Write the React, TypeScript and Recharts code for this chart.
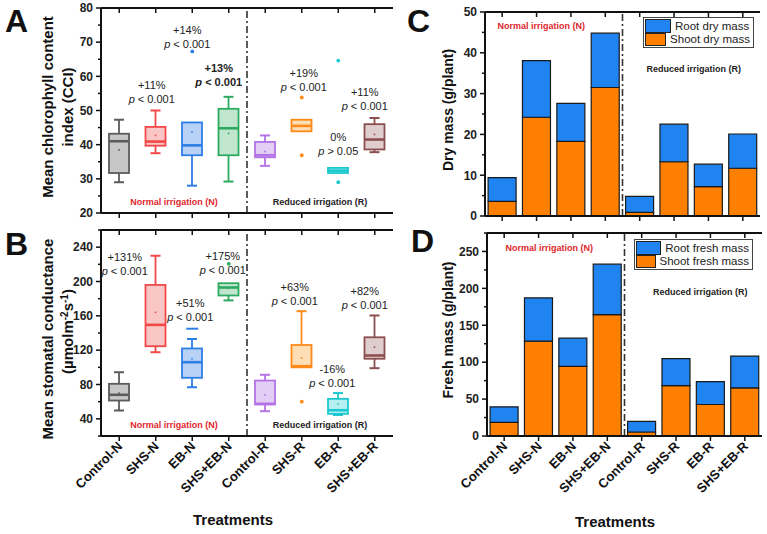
import React from "react";
import {
  ComposedChart,
  Bar,
  Scatter,
  XAxis,
  YAxis,
  ReferenceLine,
  ReferenceArea,
  Legend,
  Label,
} from "recharts";

const treatments = ["Control-N", "SHS-N", "EB-N", "SHS+EB-N", "Control-R", "SHS-R", "EB-R", "SHS+EB-R"];

// A: chlorophyll content index (CCI), box statistics
const cciMin = [29, 37.5, 28, 29.2, 33.8, 43.9, 31.7, 37.8];
const cciQ1 = [31.7, 39.7, 36.9, 36.9, 36.3, 43.9, 31.7, 38.6];
const cciMedian = [41, 40.9, 39.8, 44.8, 36.9, 45.5, 32.4, 41.5];
const cciQ3 = [43.2, 45.2, 46.5, 50.5, 40.8, 47.3, 33.2, 46];
const cciMax = [47.3, 50, 46.5, 54, 42.7, 47.3, 33.2, 47.8];
const cciMean = [38.5, 42.7, 43.7, 43.3, 38, 45.6, 32.5, 43];
const cciOutCat = ["EB-N", "SHS-R", "SHS-R", "EB-R", "EB-R"];
const cciOutVal = [67.3, 53.8, 36.9, 64.6, 29];
const cciNoteCat = ["SHS-N", "EB-N", "SHS+EB-N", "SHS-R", "EB-R", "SHS+EB-R"];
const cciNotePct = ["+11%", "+14%", "+13%", "+19%", "0%", "+11%"];
const cciNoteP = ["< 0.001", "< 0.001", "< 0.001", "< 0.001", "> 0.05", "< 0.001"];

// B: stomatal conductance, box statistics
const gsMin = [49.7, 117.6, 76.8, 178, 48.9, 100, 44.5, 99];
const gsQ1 = [61.3, 124.6, 87.8, 183.7, 56.7, 100, 45.8, 110];
const gsMedian = [68, 149.5, 106, 193, 57.5, 101.3, 50, 113.8];
const gsQ3 = [80.8, 196, 122, 198, 84.6, 126, 63.3, 135];
const gsMax = [94.3, 230, 133, 198, 91.3, 165.4, 70, 160.4];
const gsMean = [70, 164, 110, 192, 68, 111, 57.5, 123.5];
const gsOutCat = ["SHS+EB-N", "SHS-R"];
const gsOutVal = [220.6, 60];
const gsDashCat = ["EB-N"];
const gsDashVal = [145];
const gsNoteCat = ["SHS-N", "EB-N", "SHS+EB-N", "SHS-R", "EB-R", "SHS+EB-R"];
const gsNotePct = ["+131%", "+51%", "+175%", "+63%", "-16%", "+82%"];
const gsNoteP = ["< 0.001", "< 0.001", "< 0.001", "< 0.001", "< 0.001", "< 0.001"];

// C: dry mass (g/plant)
const dryShoot = [3.6, 24.2, 18.3, 31.5, 0.9, 13.3, 7.2, 11.7];
const dryRoot = [5.8, 13.9, 9.3, 13.3, 3.9, 9.2, 5.5, 8.4];

// D: fresh mass (g/plant)
const freshShoot = [18.5, 128.5, 94.4, 164.5, 5.4, 68.3, 42.7, 65.2];
const freshRoot = [21, 58.5, 38.1, 68.3, 14.4, 36.5, 31, 43.1];

// where the % / p-value notes sit (y in axis units, x nudge in px)
const cciNoteY = [57.5, 73.6, 62.5, 61.1, 42.3, 55.5];
const cciNoteDx = [-4, -5, -10, 2, 0, -10];
const cciNoteBold = [false, false, true, false, false, false];
const gsNoteY = [228.3, 174.7, 229.2, 193.4, 97.5, 189.5];
const gsNoteDx = [-31, -2, -6, -7, -6, -10];

const boxStroke = ["#5b5b5b", "#f24848", "#2d7fe6", "#2daa5f", "#b473e6", "#ff8a1a", "#1cc8cf", "#8c4f4f"];
const boxFill = ["#bdbdbd", "#f8bcbc", "#aacaf2", "#b6e2c6", "#dec6f3", "#ffd8a8", "#a8ecef", "#dac6c6"];

const BLUE = "#1f83f0";
const ORANGE = "#ff8000";
const INK = "#111";
const FONT = '"Liberation Sans", Arial, Helvetica, sans-serif';

const boxRows = (mn: number[], q1: number[], md: number[], q3: number[], mx: number[], mean: number[]) =>
  treatments.map((name, idx) => ({
    name,
    idx,
    range: [mn[idx], mx[idx]],
    min: mn[idx],
    q1: q1[idx],
    median: md[idx],
    q3: q3[idx],
    max: mx[idx],
    mean: mean[idx],
  }));

const cciRows = boxRows(cciMin, cciQ1, cciMedian, cciQ3, cciMax, cciMean);
const gsRows = boxRows(gsMin, gsQ1, gsMedian, gsQ3, gsMax, gsMean);
const cciOutliers = cciOutCat.map((name, i) => ({ name, value: cciOutVal[i] }));
const gsOutliers = gsOutCat.map((name, i) => ({ name, value: gsOutVal[i] }));
const gsDashes = gsDashCat.map((name, i) => ({ name, value: gsDashVal[i] }));
const cciNotes = cciNoteCat.map((name, i) => ({
  name, y: cciNoteY[i], pct: cciNotePct[i], p: cciNoteP[i], dx: cciNoteDx[i], bold: cciNoteBold[i],
}));
const gsNotes = gsNoteCat.map((name, i) => ({
  name, y: gsNoteY[i], pct: gsNotePct[i], p: gsNoteP[i], dx: gsNoteDx[i], bold: false,
}));
const dryRows = treatments.map((name, i) => ({ name, shoot: dryShoot[i], root: dryRoot[i] }));
const freshRows = treatments.map((name, i) => ({ name, shoot: freshShoot[i], root: freshRoot[i] }));

const steps = (from: number, to: number, step: number) => {
  const out: number[] = [];
  for (let v = from; v <= to + 1e-9; v += step) out.push(v);
  return out;
};

const axisLine = { stroke: INK, strokeWidth: 2 };
const EmptyTick = () => <g />;

// y ticks drawn by hand so minor ticks come out shorter and unlabeled
const yTick = (side: "left" | "right", major: number, fontSize: number) => (props: any) => {
  const { x, y, payload } = props;
  const v = Number(payload.value);
  const isMajor = Math.abs(v / major - Math.round(v / major)) < 1e-6;
  const len = isMajor ? 5 : 3;
  const s = side === "left" ? -1 : 1;
  return (
    <g>
      <line x1={x} x2={x + s * len} y1={y} y2={y} stroke={INK} strokeWidth={1.5} />
      {side === "left" && isMajor && (
        <text x={x - 8} y={y} dy={4.3} textAnchor="end" fontSize={fontSize} fontWeight={700} fill="#222">
          {v}
        </text>
      )}
    </g>
  );
};

const SlantTick = (props: any) => {
  const { x, y, payload } = props;
  const ax = x + 4;
  const ay = y + 4;
  return (
    <text x={ax} y={ay} transform={`rotate(-45 ${ax} ${ay})`} textAnchor="end" fontSize={13} fontWeight={700} fill={INK}>
      {payload.value}
    </text>
  );
};

function BoxShape(props: any) {
  const { x, y, width, height, payload } = props;
  const { min, q1, median, q3, max, mean, idx } = payload;
  const px = (v: number) => y + ((max - v) / (max - min)) * height;
  const cx = x + width / 2;
  const cap = 5;
  const stroke = boxStroke[idx];
  return (
    <g stroke={stroke} strokeWidth={1.8}>
      {max > q3 && <line x1={cx} x2={cx} y1={px(q3)} y2={px(max)} />}
      {max > q3 && <line x1={cx - cap} x2={cx + cap} y1={px(max)} y2={px(max)} strokeWidth={2} />}
      {min < q1 && <line x1={cx} x2={cx} y1={px(q1)} y2={px(min)} />}
      {min < q1 && <line x1={cx - cap} x2={cx + cap} y1={px(min)} y2={px(min)} strokeWidth={2} />}
      <rect x={x} y={px(q3)} width={width} height={Math.max(px(q1) - px(q3), 1)} fill={boxFill[idx]} fillOpacity={0.85} />
      <line x1={x} x2={x + width} y1={px(median)} y2={px(median)} strokeWidth={2.6} />
      <rect x={cx - 0.8} y={px(mean) - 0.8} width={1.6} height={1.6} fill={stroke} strokeWidth={0} />
    </g>
  );
}

const OutlierDot = (props: any) => {
  const { cx, cy, payload } = props;
  return <circle cx={cx} cy={cy} r={1.9} fill={boxStroke[treatments.indexOf(payload.name)]} />;
};

const DashMark = (props: any) => {
  const { cx, cy, payload } = props;
  return <line x1={cx - 6} x2={cx + 6} y1={cy} y2={cy} stroke={boxStroke[treatments.indexOf(payload.name)]} strokeWidth={2} />;
};

const NoteShape = (props: any) => {
  const { cx, cy, payload } = props;
  const tx = cx + payload.dx;
  return (
    <g fontSize={11} fontWeight={payload.bold ? 700 : 400} fill="#222">
      <text x={tx} y={cy + 4} textAnchor="middle">{payload.pct}</text>
      <text x={tx} y={cy + 18} textAnchor="middle">
        <tspan fontStyle="italic">p</tspan>
        {" " + payload.p}
      </text>
    </g>
  );
};

const regionLabel = (text: string, color: string, dx: number, from: "top" | "bottom", off: number) => (p: any) => {
  const vb = p.viewBox;
  const ty = from === "top" ? vb.y + off : vb.y + vb.height - off;
  return (
    <text x={vb.x + vb.width / 2 + dx} y={ty} textAnchor="middle" fontSize={9} fontWeight={700} fill={color}>
      {text}
    </text>
  );
};

const yTitle = (lines: React.ReactNode[], xs: number[], dys: number[], size: number) => (p: any) => {
  const vb = p.viewBox;
  const mid = vb.y + vb.height / 2;
  return (
    <g>
      {lines.map((ln, i) => (
        <text
          key={i}
          x={xs[i]}
          y={mid + dys[i]}
          transform={`rotate(-90 ${xs[i]} ${mid + dys[i]})`}
          textAnchor="middle"
          fontSize={size}
          fontWeight={700}
          fill={INK}
        >
          {ln}
        </text>
      ))}
    </g>
  );
};

const xTitle = (dx: number, base: number) => (p: any) => {
  const vb = p.viewBox;
  return (
    <text x={vb.x + vb.width / 2 + dx} y={vb.y + base} textAnchor="middle" fontSize={15} fontWeight={700} fill={INK}>
      Treatments
    </text>
  );
};

const massLegend = (labels: string[]) => () => (
  <div
    style={{
      border: "1.5px solid #444",
      background: "#fff",
      padding: "1px 3px 1px 1px",
      fontSize: 11.5,
      lineHeight: "12.5px",
      color: "#222",
      fontFamily: FONT,
    }}
  >
    {labels.map((l, i) => (
      <div key={l} style={{ display: "flex", alignItems: "center", whiteSpace: "nowrap" }}>
        <span
          style={{
            display: "inline-block",
            width: 24,
            height: 11.5,
            background: i === 0 ? BLUE : ORANGE,
            border: "1px solid #222",
            marginRight: 4,
          }}
        />
        {l}
      </div>
    ))}
  </div>
);

function BoxPanel(props: {
  rows: any[];
  outliers: any[];
  dashes?: any[];
  notes: any[];
  domain: [number, number];
  minor: number;
  major: number;
  height: number;
  xHeight: number;
  title: React.ReactNode[];
  titleDy: number[];
  showTicks: boolean;
}) {
  const { rows, outliers, dashes, notes, domain, minor, major, height, xHeight, title, titleDy, showTicks } = props;
  const ticks = steps(domain[0], domain[1], minor);
  return (
    <ComposedChart width={400} height={height} data={rows} margin={{ top: 8, right: 7, bottom: 0, left: 0 }}>
      <XAxis
        dataKey="name"
        allowDuplicatedCategory={false}
        height={xHeight}
        interval={0}
        tick={showTicks ? SlantTick : EmptyTick}
        tickSize={5}
        tickMargin={2}
        axisLine={axisLine}
        tickLine={{ stroke: INK, strokeWidth: 1.5 }}
      >
        {showTicks && <Label content={xTitle(-14, 89)} />}
      </XAxis>
      <XAxis
        xAxisId="top"
        dataKey="name"
        orientation="top"
        mirror
        allowDuplicatedCategory={false}
        interval={0}
        tick={EmptyTick}
        tickSize={5}
        axisLine={axisLine}
        tickLine={{ stroke: INK, strokeWidth: 1.5 }}
      />
      <YAxis
        domain={domain}
        ticks={ticks}
        interval={0}
        width={101}
        allowDataOverflow
        tick={yTick("left", major, 12)}
        tickLine={false}
        tickSize={0}
        tickMargin={0}
        axisLine={axisLine}
      >
        <Label content={yTitle(title, [53, 73], titleDy, 15)} />
      </YAxis>
      <YAxis
        yAxisId="right"
        orientation="right"
        domain={domain}
        ticks={ticks}
        interval={0}
        width={0}
        allowDataOverflow
        tick={yTick("right", major, 12)}
        tickLine={false}
        tickSize={0}
        tickMargin={0}
        axisLine={axisLine}
      />
      <ReferenceArea x1="Control-N" x2="SHS+EB-N" fillOpacity={0} strokeOpacity={0}>
        <Label content={regionLabel("Normal irrigation (N)", "#e0262b", 0, "bottom", 8)} />
      </ReferenceArea>
      <ReferenceArea x1="Control-R" x2="SHS+EB-R" fillOpacity={0} strokeOpacity={0}>
        <Label content={regionLabel("Reduced irrigation (R)", "#222", 0, "bottom", 8)} />
      </ReferenceArea>
      <ReferenceLine x="SHS+EB-N" position="end" stroke="#333" strokeWidth={1.6} strokeDasharray="7 3 2 3" />
      <Bar dataKey="range" barSize={20} shape={BoxShape} isAnimationActive={false} />
      <Scatter data={outliers} dataKey="value" shape={OutlierDot} isAnimationActive={false} />
      {dashes && <Scatter data={dashes} dataKey="value" shape={DashMark} isAnimationActive={false} />}
      <Scatter data={notes} dataKey="y" shape={NoteShape} isAnimationActive={false} />
    </ComposedChart>
  );
}

function MassPanel(props: {
  rows: any[];
  domain: [number, number];
  minor: number;
  major: number;
  height: number;
  xHeight: number;
  marginTop: number;
  marginRight: number;
  yWidth: number;
  title: string;
  titleDy: number;
  legendLabels: string[];
  legendPos: { left: number; top: number; width: number };
  normalDx: number;
  normalOff: number;
  reducedDx: number;
  reducedOff: number;
  showTicks: boolean;
}) {
  const p = props;
  const ticks = steps(p.domain[0], p.domain[1], p.minor);
  return (
    <ComposedChart
      width={367}
      height={p.height}
      data={p.rows}
      margin={{ top: p.marginTop, right: p.marginRight, bottom: 0, left: 0 }}
      barCategoryGap="9%"
    >
      <XAxis
        dataKey="name"
        height={p.xHeight}
        interval={0}
        tick={p.showTicks ? SlantTick : EmptyTick}
        tickSize={5}
        tickMargin={2}
        axisLine={axisLine}
        tickLine={{ stroke: INK, strokeWidth: 1.5 }}
      >
        {p.showTicks && <Label content={xTitle(-9.5, 91)} />}
      </XAxis>
      <XAxis
        xAxisId="top"
        dataKey="name"
        orientation="top"
        mirror
        interval={0}
        tick={EmptyTick}
        tickSize={5}
        axisLine={axisLine}
        tickLine={{ stroke: INK, strokeWidth: 1.5 }}
      />
      <YAxis
        domain={p.domain}
        ticks={ticks}
        interval={0}
        width={p.yWidth}
        allowDataOverflow
        tick={yTick("left", p.major, 12)}
        tickLine={false}
        tickSize={0}
        tickMargin={0}
        axisLine={axisLine}
      >
        <Label content={yTitle([p.title], [53], [p.titleDy], 14)} />
      </YAxis>
      <YAxis
        yAxisId="right"
        orientation="right"
        domain={p.domain}
        ticks={ticks}
        interval={0}
        width={0}
        allowDataOverflow
        tick={yTick("right", p.major, 12)}
        tickLine={false}
        tickSize={0}
        tickMargin={0}
        axisLine={axisLine}
      />
      <ReferenceArea x1="Control-N" x2="SHS+EB-N" fillOpacity={0} strokeOpacity={0}>
        <Label content={regionLabel("Normal irrigation (N)", "#e0262b", p.normalDx, "top", p.normalOff)} />
      </ReferenceArea>
      <ReferenceArea x1="Control-R" x2="SHS+EB-R" fillOpacity={0} strokeOpacity={0}>
        <Label content={regionLabel("Reduced irrigation (R)", "#222", p.reducedDx, "top", p.reducedOff)} />
      </ReferenceArea>
      <Bar dataKey="shoot" stackId="m" fill={ORANGE} stroke="#1a1a1a" strokeWidth={1.2} isAnimationActive={false} />
      <Bar dataKey="root" stackId="m" fill={BLUE} stroke="#1a1a1a" strokeWidth={1.2} isAnimationActive={false} />
      <ReferenceLine x="SHS+EB-N" position="end" stroke="#333" strokeWidth={1.6} strokeDasharray="7 3 2 3" />
      <Legend
        layout="vertical"
        align="center"
        verticalAlign="middle"
        content={massLegend(p.legendLabels)}
        wrapperStyle={{ left: p.legendPos.left, top: p.legendPos.top, width: p.legendPos.width, height: "auto" }}
      />
    </ComposedChart>
  );
}

const gsUnit = (
  <>
    (µmolm
    <tspan dy={-5} fontSize={10}>-2</tspan>
    <tspan dy={5}>s</tspan>
    <tspan dy={-5} fontSize={10}>-1</tspan>
    <tspan dy={5}>)</tspan>
  </>
);

export default function App() {
  return (
    <div style={{ position: "absolute", left: 0, top: 0, width: 767, height: 534, background: "#fff", fontFamily: FONT }}>
      <div style={{ position: "absolute", left: 0, top: 0 }}>
        <BoxPanel
          rows={cciRows}
          outliers={cciOutliers}
          notes={cciNotes}
          domain={[20, 80]}
          minor={5}
          major={10}
          height={222}
          xHeight={9}
          title={["Mean chlorophyll content", "index (CCI)"]}
          titleDy={[-3.5, -3.5]}
          showTicks={false}
        />
      </div>
      <div style={{ position: "absolute", left: 0, top: 222 }}>
        <BoxPanel
          rows={gsRows}
          outliers={gsOutliers}
          dashes={gsDashes}
          notes={gsNotes}
          domain={[20, 260]}
          minor={20}
          major={40}
          height={312}
          xHeight={98}
          title={["Mean stomatal conductance", gsUnit]}
          titleDy={[6, -1.5]}
          showTicks
        />
      </div>
      <div style={{ position: "absolute", left: 400, top: 0 }}>
        <MassPanel
          rows={dryRows}
          domain={[0, 50]}
          minor={5}
          major={10}
          height={222}
          xHeight={6}
          marginTop={12}
          marginRight={7}
          yWidth={85}
          title="Dry mass (g/plant)"
          titleDy={-4}
          legendLabels={["Root dry mass", "Shoot dry mass"]}
          legendPos={{ left: 243, top: 17, width: 111 }}
          normalDx={-12.5}
          normalOff={16.5}
          reducedDx={2.5}
          reducedOff={59.5}
          showTicks={false}
        />
      </div>
      <div style={{ position: "absolute", left: 400, top: 222 }}>
        <MassPanel
          rows={freshRows}
          domain={[0, 275]}
          minor={25}
          major={50}
          height={312}
          xHeight={98}
          marginTop={11}
          marginRight={5}
          yWidth={87}
          title="Fresh mass (g/plant)"
          titleDy={-4.5}
          legendLabels={["Root fresh mass", "Shoot fresh mass"]}
          legendPos={{ left: 234, top: 17, width: 119 }}
          normalDx={-6.5}
          normalOff={17.5}
          reducedDx={7}
          reducedOff={61.5}
          showTicks
        />
      </div>
      <svg width={767} height={534} style={{ position: "absolute", left: 0, top: 0, pointerEvents: "none" }}>
        <g fontSize={32} fontWeight={700} fill={INK}>
          <text x={5} y={32}>A</text>
          <text x={5} y={255}>B</text>
          <text x={407} y={32}>C</text>
          <text x={411} y={252}>D</text>
        </g>
      </svg>
    </div>
  );
}
